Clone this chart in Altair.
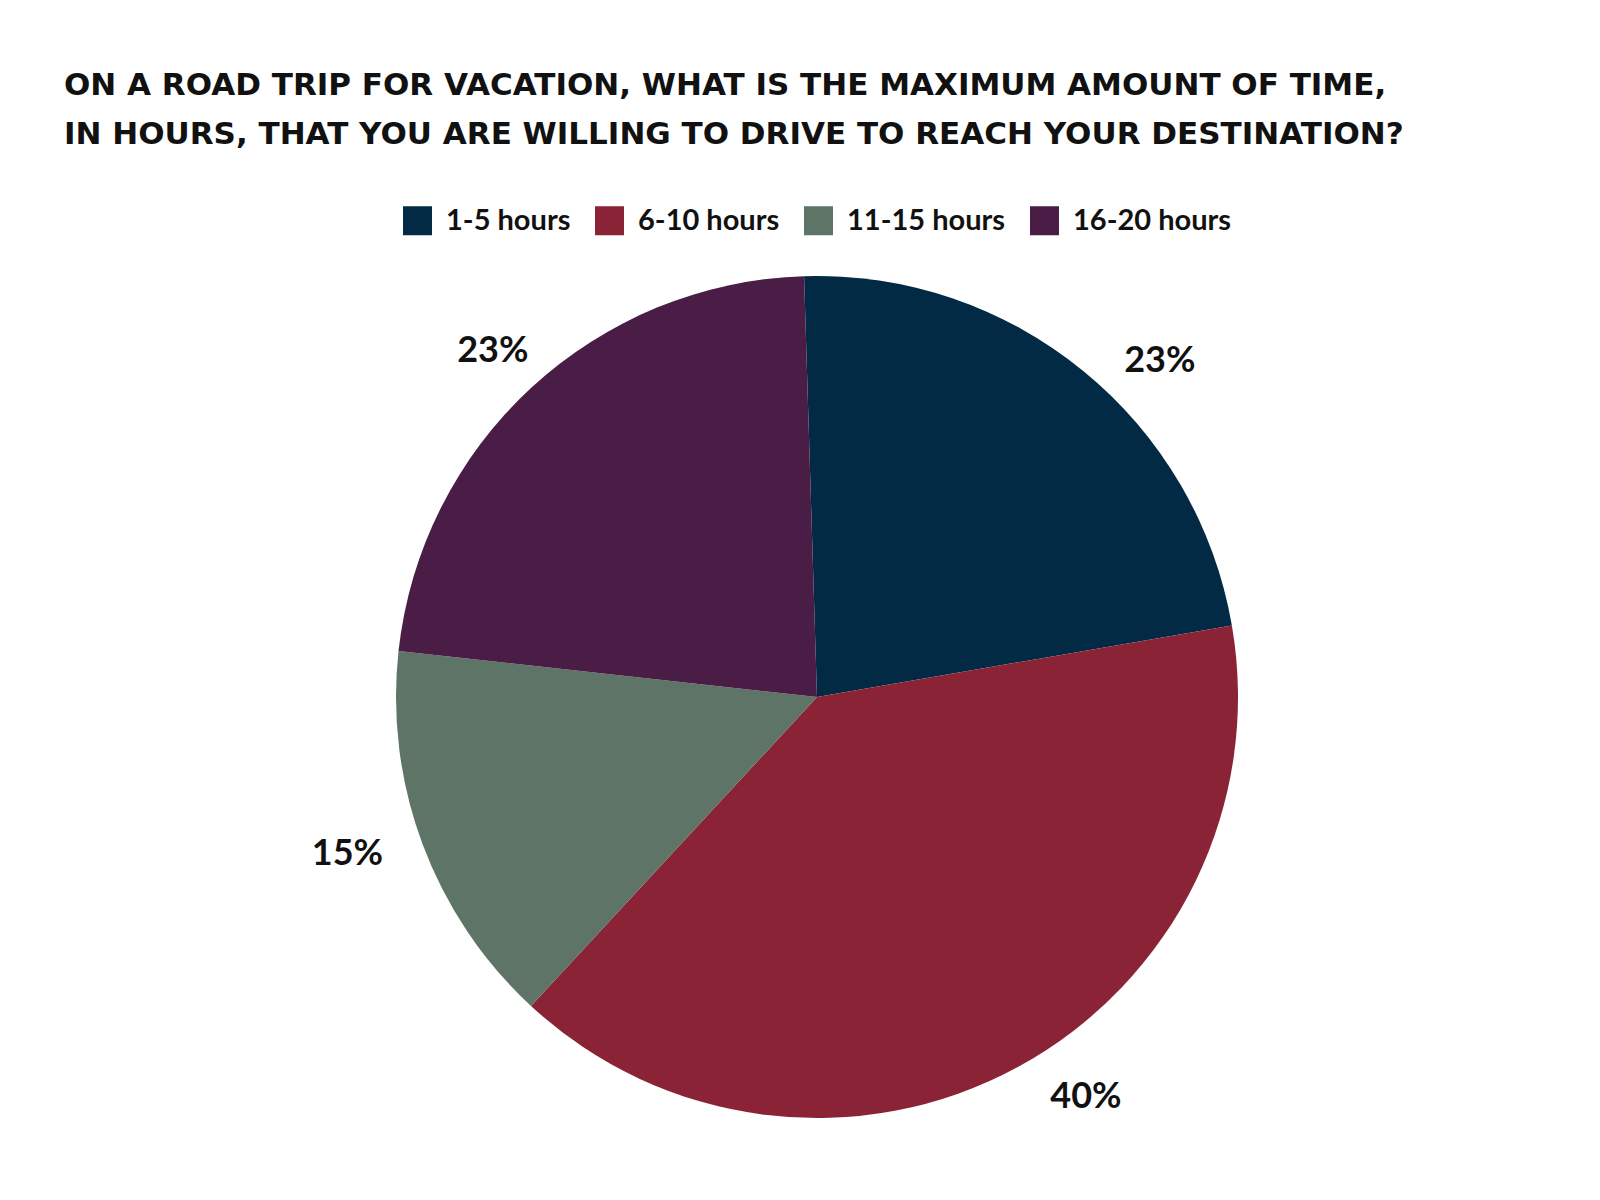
import math
import altair as alt
import pandas as pd

categories = ["1-5 hours", "6-10 hours", "11-15 hours", "16-20 hours"]
values = [23, 40, 15, 23]
labels = ["23%", "40%", "15%", "23%"]
colors = ["#022A44", "#8A2335", "#5E7466", "#4A1D46"]
title_lines = [
    "ON A ROAD TRIP FOR VACATION, WHAT IS THE MAXIMUM AMOUNT OF TIME,",
    "IN HOURS, THAT YOU ARE WILLING TO DRIVE TO REACH YOUR DESTINATION?",
]
# small nudges of each percentage label from its slice's mid-angle (dx, dy)
label_nudges = [(38, 37), (39, -24), (-18, -12), (3, 8)]

df = pd.DataFrame({
    "category": categories,
    "value": values,
    "label": labels,
    "order": list(range(len(categories))),
})

start = -0.0307
total = sum(values)
theta_scale = alt.Scale(domain=[0, total], range=[start, 2 * math.pi + start], nice=False, zero=True)
CX, CY = 809, 539

base = alt.Chart(df).transform_stack(
    stack="value", groupby=[], as_=["v0", "v1"], sort=[alt.SortField("order")]
).transform_calculate(mid="(datum.v0 + datum.v1) / 2")

arcs = base.mark_arc(outerRadius=421, x=CX, y=CY, stroke=None).encode(
    theta=alt.Theta("v0:Q", scale=theta_scale, stack=None),
    theta2="v1:Q",
    color=alt.Color(
        "category:N",
        scale=alt.Scale(domain=categories, range=colors),
        sort=categories,
        legend=alt.Legend(
            title=None,
            orient="none",
            direction="horizontal",
            legendX=395,
            legendY=48,
            symbolType="square",
            symbolSize=841,
            symbolStrokeWidth=0,
            labelFont="Lato",
            labelFontSize=29,
            labelFontWeight="bold",
            labelColor="#111111",
            labelOffset=14,
            columnPadding=24,
            symbolOffset=0,
        ),
    ),
)

text_layers = []
for i, (ddx, ddy) in enumerate(label_nudges):
    text_layers.append(
        base.transform_filter(alt.datum.order == i).mark_text(
            radius=482, x=CX, y=CY, dx=ddx, dy=ddy, font="Lato", fontSize=36,
            fontWeight="bold", color="#111111", align="center", baseline="middle",
        ).encode(
            theta=alt.Theta("mid:Q", scale=theta_scale, stack=None),
            text="label:N",
        )
    )

chart = alt.layer(arcs, *text_layers).properties(
    width=1584,
    height=1034,
    padding={"left": 0, "top": 150, "right": 0, "bottom": 0},
    autosize="none",
    title=alt.TitleParams(
        text=title_lines,
        anchor="start",
        frame="group",
        orient="top",
        font="DejaVu Sans",
        fontSize=31,
        fontWeight="bold",
        color="#111111",
        lineHeight=49,
        dx=56,
        offset=7,
    ),
).configure_view(stroke=None).configure(background="white")

chart.save("out.html", embed_options={"renderer": "svg", "actions": False})
